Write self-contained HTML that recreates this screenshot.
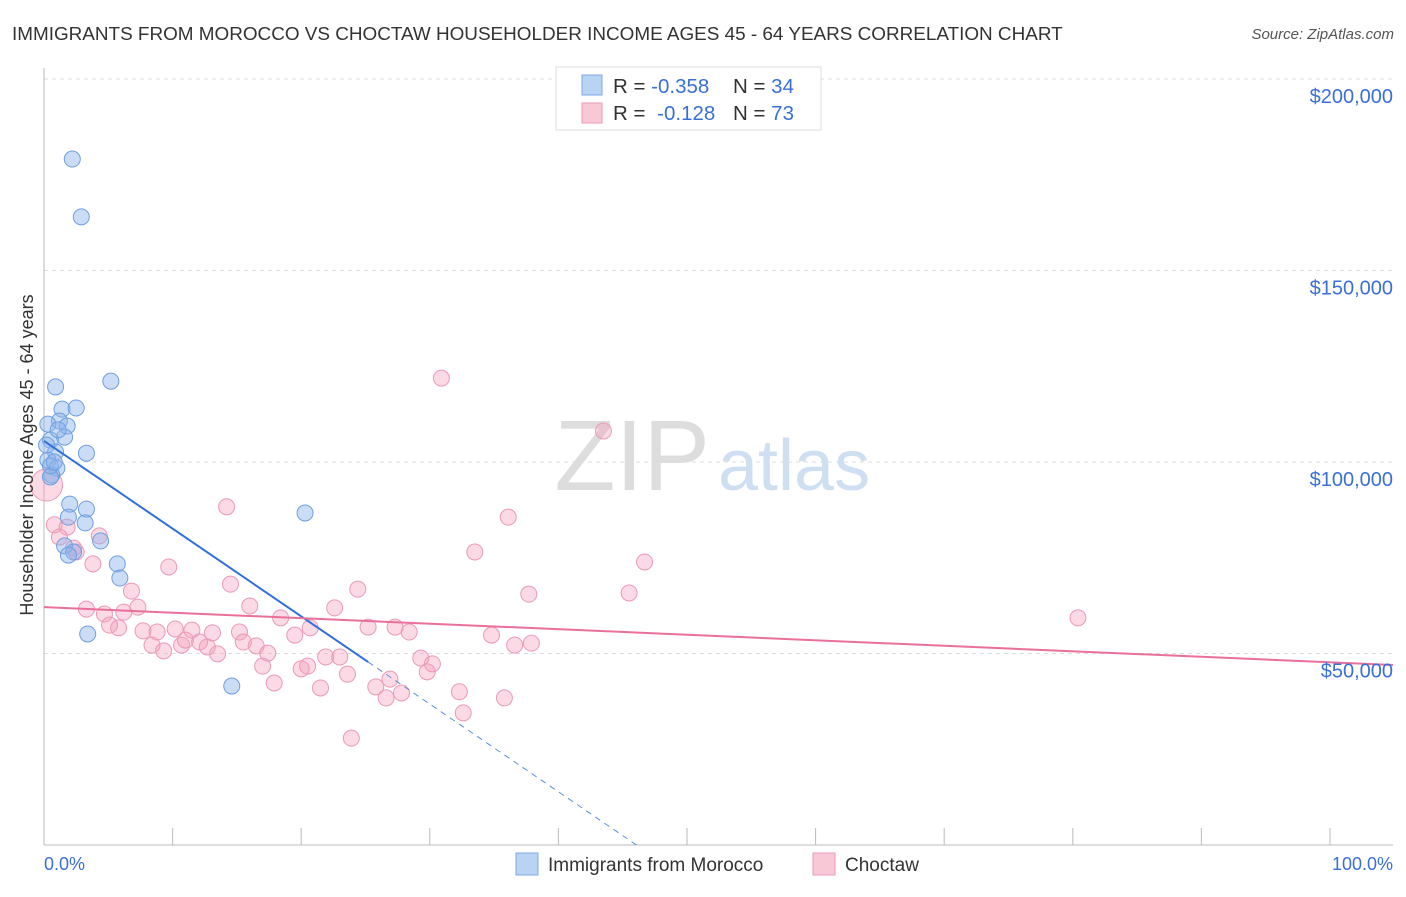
<!DOCTYPE html>
<html><head><meta charset="utf-8"><style>
body{margin:0;background:#fff;font-family:"Liberation Sans",sans-serif;}
svg text{font-family:"Liberation Sans",sans-serif;}
</style></head><body>
<svg id="chart" width="1406" height="892">
<text x="12" y="40" font-size="18.9" fill="#333">IMMIGRANTS FROM MOROCCO VS CHOCTAW HOUSEHOLDER INCOME AGES 45 - 64 YEARS CORRELATION CHART</text>
<text x="1394" y="39" font-size="15" fill="#555" text-anchor="end" font-style="italic">Source: ZipAtlas.com</text>
<g id="grid"></g>
<text x="710" y="490" font-size="100" fill="#ddd" font-family="Liberation Serif" text-anchor="end">ZIP</text>
<text x="718" y="490" font-size="72" fill="#cfdff2">atlas</text>
<g id="marks"></g>
<text x="33" y="455" font-size="18" fill="#333" text-anchor="middle" transform="rotate(-90 33 455)">Householder Income Ages 45 - 64 years</text>
<text x="44" y="870" font-size="18" fill="#3a6fd8">0.0%</text>
<text x="1393" y="870" font-size="18" fill="#3a6fd8" text-anchor="end">100.0%</text>
<g>
<rect x="556" y="67" width="265" height="63" fill="#fff" stroke="#ddd"/>
<rect x="582" y="75" width="20" height="20" fill="#b9d3f3" stroke="#7ea8e4"/>
<rect x="582" y="103" width="20" height="20" fill="#f9c8d7" stroke="#eb9ab5"/>
<text x="613" y="93" font-size="20.5" fill="#333">R = <tspan fill="#3a6fd8">-0.358</tspan><tspan x="733">N = </tspan><tspan fill="#3a6fd8">34</tspan></text>
<text x="613" y="120" font-size="20.5" fill="#333">R = <tspan fill="#3a6fd8" dx="6">-0.128</tspan><tspan x="733">N = </tspan><tspan fill="#3a6fd8">73</tspan></text>
</g>
<g>
<rect x="516" y="853" width="22" height="22" fill="#b9d3f3" stroke="#7ea8e4"/>
<text x="548" y="871" font-size="19" fill="#333">Immigrants from Morocco</text>
<rect x="813" y="853" width="22" height="22" fill="#f9c8d7" stroke="#eb9ab5"/>
<text x="845" y="871" font-size="19" fill="#333">Choctaw</text>
</g>
</svg>
<script>
const yTicks=[50,100,150,200];
const xTickPcts=[0,10,20,30,40,50,60,70,80,90,100];
const moroccoX=[2.2,2.9,0.9,5.2,1.4,2.5,1.2,1.8,0.3,1.6,0.5,0.9,3.3,0.3,1.0,0.6,0.5,2.0,3.3,1.9,3.2,4.4,1.6,2.3,1.9,5.7,5.9,3.4,14.6,20.3,0.5,0.2,1.1,0.8];
const moroccoY=[179.1,164.0,119.6,121.1,113.8,114.1,110.7,109.4,109.9,106.5,105.7,102.6,102.3,100.5,98.4,96.6,96.1,89.0,87.7,85.6,84.1,79.4,78.1,76.5,75.7,73.4,69.7,55.1,41.5,86.7,99.0,104.4,108.4,100.0];
const choctawX=[0.2,0.8,1.8,1.2,2.3,2.5,3.8,4.3,3.3,4.7,5.1,5.8,6.2,7.3,6.8,7.7,8.4,8.8,9.3,9.7,10.2,10.7,11.0,11.5,12.1,12.7,13.1,13.5,14.2,14.5,15.2,15.5,16.0,16.5,17.0,17.4,17.9,18.4,19.5,20.0,20.5,21.5,21.9,22.6,23.0,23.6,23.9,24.4,25.8,26.6,26.9,27.3,27.8,28.4,29.3,29.8,30.2,30.9,32.3,32.6,33.5,34.8,35.8,36.1,36.6,37.7,37.9,43.5,45.5,46.7,80.4,20.7,25.2];
const choctawY=[94.0,83.6,83.0,80.4,77.5,76.5,73.4,80.7,61.6,60.3,57.4,56.7,60.8,62.1,66.3,55.9,52.2,55.6,50.7,72.6,56.4,52.2,53.5,56.1,53.0,51.7,55.4,49.9,88.3,68.1,55.6,53.0,62.4,52.0,46.7,50.1,42.3,59.3,54.8,46.0,46.7,41.0,49.1,61.9,49.1,44.6,27.9,66.8,41.3,38.4,43.3,56.9,39.7,55.6,48.8,45.2,47.3,121.9,40.0,34.5,76.5,54.8,38.4,85.6,52.2,65.5,52.7,108.1,65.8,73.9,59.3,56.7,56.9];
const moroccoTrend=[105.5,-2.29];
const choctawTrend=[62.1,-0.144];
const X=p=>44+p*12.86, Y=v=>845-v*3.83;
const NS="http://www.w3.org/2000/svg";
function mk(t,a,parent){const e=document.createElementNS(NS,t);for(const k in a)e.setAttribute(k,a[k]);parent.appendChild(e);return e;}
const grid=document.getElementById('grid'),marks=document.getElementById('marks'),svg=document.getElementById('chart');
yTicks.forEach(v=>{
 const l=mk('line',{x1:44,x2:1393,y1:Y(v),y2:Y(v),stroke:'#ddd','stroke-dasharray':'4,4'},grid);
 
 
 const t=mk('text',{x:1393,y:Y(v)+24,'font-size':20,fill:'#3a6fd8','text-anchor':'end'},svg);
 t.textContent='$'+(v*1000).toLocaleString('en-US');
 
 
});
const ax=mk('line',{x1:44,x2:44,y1:68,y2:845,stroke:'#bbb'},grid);


const bx=mk('line',{x1:44,x2:1393,y1:845,y2:845,stroke:'#bbb'},grid);


xTickPcts.forEach(p=>{
 const t=mk('line',{x1:X(p),x2:X(p),y1:828,y2:845,stroke:'#bbb'},grid);
 
 
});
choctawX.forEach((x,i)=>{
 const c=mk('circle',{cx:X(x),cy:Y(choctawY[i]),r:i===0?16:8,fill:'rgba(244,160,190,0.4)',stroke:'#eb9ab5','stroke-width':1},marks);
 
 
});
moroccoX.forEach((x,i)=>{
 const c=mk('circle',{cx:X(x),cy:Y(moroccoY[i]),r:8,fill:'rgba(140,180,235,0.45)',stroke:'#6f9fe0','stroke-width':1},marks);
 
 
});
const mEnd=25.2, mZero=-moroccoTrend[0]/moroccoTrend[1];
const t1=mk('line',{x1:X(0),y1:Y(moroccoTrend[0]),x2:X(mEnd),y2:Y(moroccoTrend[0]+moroccoTrend[1]*mEnd),stroke:'#2f6fdc','stroke-width':2},marks);


const t2=mk('line',{x1:X(mEnd),y1:Y(moroccoTrend[0]+moroccoTrend[1]*mEnd),x2:X(mZero),y2:Y(0),stroke:'#5b8fe0','stroke-width':1,'stroke-dasharray':'6,5'},marks);


const cEnd=104.9;
const t3=mk('line',{x1:X(0),y1:Y(choctawTrend[0]),x2:X(cEnd),y2:Y(choctawTrend[0]+choctawTrend[1]*cEnd),stroke:'#e8709a','stroke-width':2},marks);


</script>
</body></html>
